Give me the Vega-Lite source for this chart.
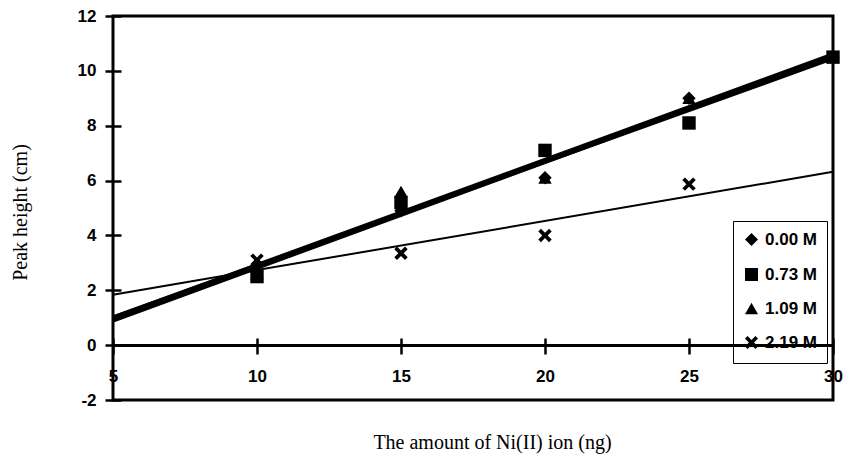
{
  "$schema": "https://vega.github.io/schema/vega-lite/v6.json",
  "width": 720,
  "height": 384,
  "autosize": {"type": "none"},
  "padding": {"left": 113, "top": 16, "right": 16, "bottom": 65},
  "background": "white",
  "config": {
    "view": {"stroke": "black", "strokeWidth": 3},
    "font": "Liberation Sans",
    "axisY": {
      "offset": -8, "tickSize": 16, "tickWidth": 2.5, "tickColor": "black",
      "domain": false, "grid": false,
      "labelFont": "Liberation Sans", "labelFontWeight": "bold", "labelFontSize": 17,
      "labelColor": "black", "labelPadding": 9,
      "titleFont": "Liberation Serif", "titleFontSize": 20, "titleFontWeight": "normal",
      "titleColor": "black", "titleX": -101, "titleY": 196, "titleAngle": -90,
      "titleBaseline": "middle", "titleAlign": "center"
    },
    "axisX": {
      "offset": -62, "tickSize": 16, "tickWidth": 2.5, "tickColor": "black",
      "domain": false, "grid": false,
      "labelFont": "Liberation Sans", "labelFontWeight": "bold", "labelFontSize": 17,
      "labelColor": "black", "labelPadding": 14, "labelFlush": false, "labelOverlap": false,
      "titleFont": "Liberation Serif", "titleFontSize": 20, "titleFontWeight": "normal",
      "titleColor": "black", "titleX": 379, "titleY": 104,
      "titleBaseline": "middle", "titleAlign": "center"
    }
  },
  "data": {
    "values": [
      {"series": "0.00 M", "x": 10, "y": 2.9},
      {"series": "0.00 M", "x": 15, "y": 4.9},
      {"series": "0.00 M", "x": 20, "y": 6.1},
      {"series": "0.00 M", "x": 25, "y": 9.0},
      {"series": "0.00 M", "x": 30, "y": 10.5},
      {"series": "0.73 M", "x": 10, "y": 2.5},
      {"series": "0.73 M", "x": 15, "y": 5.2},
      {"series": "0.73 M", "x": 20, "y": 7.1},
      {"series": "0.73 M", "x": 25, "y": 8.1},
      {"series": "0.73 M", "x": 30, "y": 10.5},
      {"series": "1.09 M", "x": 10, "y": 2.6},
      {"series": "1.09 M", "x": 15, "y": 5.6},
      {"series": "1.09 M", "x": 20, "y": 6.1},
      {"series": "1.09 M", "x": 25, "y": 9.0},
      {"series": "1.09 M", "x": 30, "y": 10.5},
      {"series": "2.19 M", "x": 10, "y": 3.1},
      {"series": "2.19 M", "x": 15, "y": 3.35},
      {"series": "2.19 M", "x": 20, "y": 4.0},
      {"series": "2.19 M", "x": 25, "y": 5.87}
    ]
  },
  "layer": [
    {
      "mark": {"type": "rule", "stroke": "black", "strokeWidth": 2.5},
      "encoding": {
        "y": {"datum": 0, "type": "quantitative", "title": "Peak height (cm)",
              "scale": {"domain": [-2, 12], "nice": false, "zero": false},
              "axis": {"values": [-2, 0, 2, 4, 6, 8, 10, 12], "labelExpr": "datum.value < 0 ? '-' + abs(datum.value) : '' + datum.value"}}
      }
    },
    {
      "transform": [
        {"filter": "datum.series !== '2.19 M'"},
        {"regression": "y", "on": "x", "groupby": ["series"], "extent": [5, 30]}
      ],
      "mark": {"type": "line", "color": "black", "strokeWidth": 4},
      "encoding": {
        "x": {"field": "x", "type": "quantitative", "title": "The amount of  Ni(II) ion (ng)",
              "scale": {"domain": [5, 30], "nice": false, "zero": false},
              "axis": {"values": [5, 10, 15, 20, 25, 30]}},
        "y": {"field": "y", "type": "quantitative", "title": "Peak height (cm)",
              "axis": {"values": [-2, 0, 2, 4, 6, 8, 10, 12], "labelExpr": "datum.value < 0 ? '-' + abs(datum.value) : '' + datum.value"}},
        "detail": {"field": "series"}
      }
    },
    {
      "transform": [
        {"filter": "datum.series === '2.19 M'"},
        {"regression": "y", "on": "x", "groupby": ["series"], "extent": [5, 30]}
      ],
      "mark": {"type": "line", "color": "black", "strokeWidth": 2},
      "encoding": {
        "x": {"field": "x", "type": "quantitative", "title": "The amount of  Ni(II) ion (ng)",
              "axis": {"values": [5, 10, 15, 20, 25, 30]}},
        "y": {"field": "y", "type": "quantitative", "title": "Peak height (cm)",
              "axis": {"values": [-2, 0, 2, 4, 6, 8, 10, 12], "labelExpr": "datum.value < 0 ? '-' + abs(datum.value) : '' + datum.value"}},
        "detail": {"field": "series"}
      }
    },
    {
      "mark": {"type": "point", "filled": true, "color": "black", "size": 180, "opacity": 1},
      "encoding": {
        "x": {"field": "x", "type": "quantitative", "title": "The amount of  Ni(II) ion (ng)",
              "axis": {"values": [5, 10, 15, 20, 25, 30]}},
        "y": {"field": "y", "type": "quantitative", "title": "Peak height (cm)",
              "axis": {"values": [-2, 0, 2, 4, 6, 8, 10, 12], "labelExpr": "datum.value < 0 ? '-' + abs(datum.value) : '' + datum.value"}},
        "shape": {
          "field": "series", "type": "nominal",
          "scale": {
            "domain": ["0.00 M", "0.73 M", "1.09 M", "2.19 M"],
            "range": ["diamond", "square", "triangle-up",
                      "M-1,-0.6L-0.6,-1L0,-0.4L0.6,-1L1,-0.6L0.4,0L1,0.6L0.6,1L0,0.4L-0.6,1L-1,0.6L-0.4,0Z"]
          },
          "legend": {
            "orient": "none", "legendX": 620, "legendY": 205, "title": null,
            "strokeColor": "black", "padding": 10,
            "labelFont": "Liberation Sans", "labelFontWeight": "bold", "labelFontSize": 17,
            "labelColor": "black", "rowPadding": 14, "symbolSize": 170,
            "symbolFillColor": "black", "symbolStrokeColor": "black", "symbolOpacity": 1,
            "labelOffset": 5
          }
        }
      }
    }
  ]
}
